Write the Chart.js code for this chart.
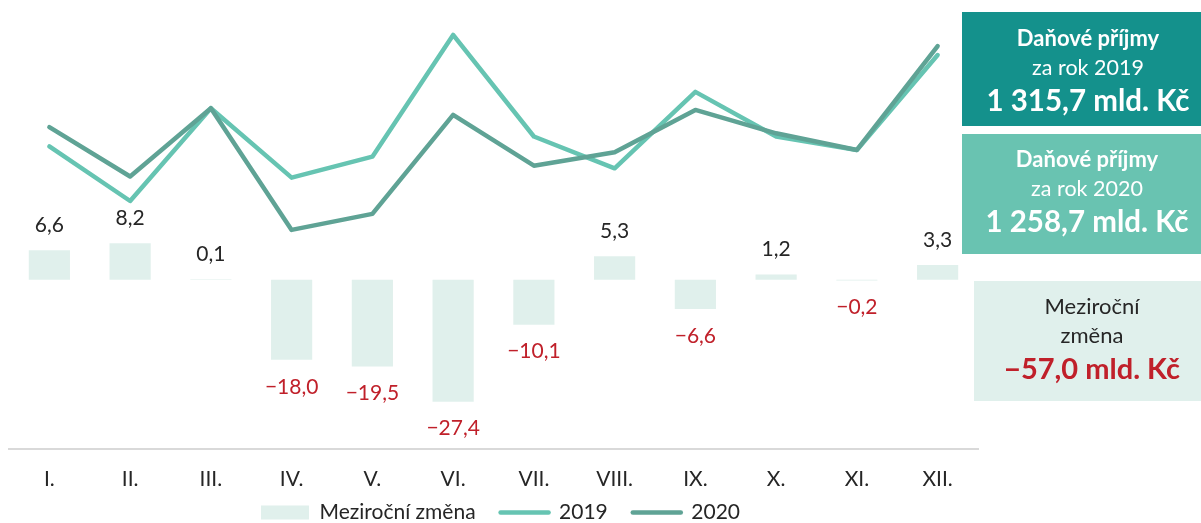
<!DOCTYPE html>
<html>
<head>
<meta charset="utf-8">
<script src="https://cdn.jsdelivr.net/npm/chart.js@4"></script>
<style>
  html, body { margin: 0; padding: 0; background: #fff; }
  #wrap { width: 1201px; height: 523px; position: relative; }
</style>
</head>
<body>
<div id="wrap"><canvas id="taxChart"></canvas></div>
<script>
const months = ["I.", "II.", "III.", "IV.", "V.", "VI.", "VII.", "VIII.", "IX.", "X.", "XI.", "XII."];
const changes = [6.6, 8.2, 0.1, -18.0, -19.5, -27.4, -10.1, 5.3, -6.6, 1.2, -0.2, 3.3];
const revenue2019 = [103.6, 84.9, 116.7, 92.9, 100.1, 141.8, 107.0, 96.1, 122.3, 107.0, 102.4, 134.9];
const revenue2020 = [110.2, 93.3, 116.7, 75.0, 80.5, 114.4, 97.0, 101.6, 116.1, 108.1, 102.4, 138.0];

const FONT = "Lato, 'Open Sans', sans-serif";
const RED = "#c0202a";
const TEXT = "#262626";

const boxes = [
    { x: 962, y: 12, w: 239, h: 114, color: "#14918c", cx: 1088, lines: [
        { text: "Daňové příjmy", y: 39, font: "bold 22px " + FONT, color: "#fff" },
        { text: "za rok 2019", y: 68, font: "21.5px " + FONT, color: "#fff" },
        { text: "1 315,7 mld. Kč", y: 101, font: "bold 29.5px " + FONT, color: "#fff" }
    ]},
    { x: 962, y: 134, w: 239, h: 120, color: "#69c3b1", cx: 1087, lines: [
        { text: "Daňové příjmy", y: 160, font: "bold 22px " + FONT, color: "#fff" },
        { text: "za rok 2020", y: 189, font: "21.5px " + FONT, color: "#fff" },
        { text: "1 258,7 mld. Kč", y: 222, font: "bold 29.5px " + FONT, color: "#fff" }
    ]},
    { x: 974, y: 281, w: 227, h: 120, color: "#e0f0ec", cx: 1092, lines: [
        { text: "Meziroční", y: 307, font: "22px " + FONT, color: TEXT },
        { text: "změna", y: 336, font: "22px " + FONT, color: TEXT },
        { text: "−57,0 mld. Kč", y: 370, font: "bold 29px " + FONT, color: RED }
    ]}
];

function fmt(v) {
    return v.toFixed(1).replace(".", ",").replace("-", "−");
}

// values above / below the change bars
const barLabels = {
    id: "barLabels",
    afterDatasetsDraw(chart) {
        const ctx = chart.ctx;
        const meta = chart.getDatasetMeta(0);
        ctx.save();
        ctx.font = "21px " + FONT;
        ctx.textAlign = "center";
        ctx.textBaseline = "middle";
        meta.data.forEach((bar, i) => {
            const v = changes[i];
            ctx.fillStyle = v < 0 ? RED : TEXT;
            ctx.fillText(fmt(v), bar.x, v < 0 ? bar.y + 27 : bar.y - 25);
        });
        ctx.restore();
    }
};

// summary boxes on the right
const sideBoxes = {
    id: "sideBoxes",
    afterDraw(chart) {
        const ctx = chart.ctx;
        ctx.save();
        ctx.textAlign = "center";
        ctx.textBaseline = "middle";
        boxes.forEach(b => {
            ctx.fillStyle = b.color;
            ctx.fillRect(b.x, b.y, b.w, b.h);
            b.lines.forEach(l => {
                ctx.font = l.font;
                ctx.fillStyle = l.color;
                ctx.fillText(l.text, b.cx, l.y);
            });
        });
        ctx.restore();
    }
};

// fixed legend height, then move the legend row up and a bit right
const legendFit = {
    id: "legendFit",
    beforeLayout(chart) {
        const lg = chart.legend;
        if (lg && !lg._fixed) {
            const fit = lg.fit;
            lg.fit = function () { fit.call(this); this.height = 40; };
            lg._fixed = true;
        }
    },
    afterLayout(chart) {
        const lg = chart.legend;
        if (lg) { lg.top -= 32; lg.left += 7; lg.right += 7; }
    }
};

new Chart(document.getElementById("taxChart"), {
    type: "bar",
    data: {
        labels: months,
        datasets: [
            {
                type: "bar",
                label: "Meziroční změna",
                data: changes,
                backgroundColor: "#e0f0ec",
                yAxisID: "yBar",
                categoryPercentage: 1,
                barPercentage: 0.51,
                order: 3
            },
            {
                type: "line",
                label: "2019",
                data: revenue2019,
                borderColor: "#66c4b2",
                borderWidth: 4.5,
                pointRadius: 0,
                borderCapStyle: "round",
                borderJoinStyle: "round",
                yAxisID: "yLine",
                order: 2
            },
            {
                type: "line",
                label: "2020",
                data: revenue2020,
                borderColor: "#5fa395",
                borderWidth: 4.5,
                pointRadius: 0,
                borderCapStyle: "round",
                borderJoinStyle: "round",
                yAxisID: "yLine",
                order: 1
            }
        ]
    },
    options: {
        responsive: true,
        maintainAspectRatio: false,
        animation: false,
        layout: { padding: { left: 9, right: 223, top: 11, bottom: -26 } },
        scales: {
            x: {
                grid: { display: false, drawTicks: false },
                border: { display: true, color: "#d9d9d9", width: 2 },
                ticks: { color: TEXT, font: { family: FONT, size: 21, lineHeight: 1.2 }, padding: 17.5 }
            },
            yBar: { display: false, min: -38, max: 60.4 },
            yLine: { display: false, min: 0, max: 150 }
        },
        plugins: {
            tooltip: { enabled: false },
            legend: {
                position: "bottom",
                labels: {
                    usePointStyle: true,
                    pointStyleWidth: 48,
                    boxHeight: 14,
                    padding: 25,
                    color: TEXT,
                    font: { family: FONT, size: 21 },
                    generateLabels: chart => chart.data.datasets.map((ds, i) => ({
                        text: ds.label,
                        datasetIndex: i,
                        fillStyle: ds.type === "line" ? ds.borderColor : ds.backgroundColor,
                        strokeStyle: ds.type === "line" ? ds.borderColor : ds.backgroundColor,
                        lineWidth: ds.type === "line" ? 4.5 : 0,
                        lineCap: "round",
                        pointStyle: ds.type === "line" ? "line" : "rect",
                        fontColor: TEXT,
                        hidden: false
                    }))
                }
            }
        }
    },
    plugins: [barLabels, sideBoxes, legendFit]
});
</script>
</body>
</html>
